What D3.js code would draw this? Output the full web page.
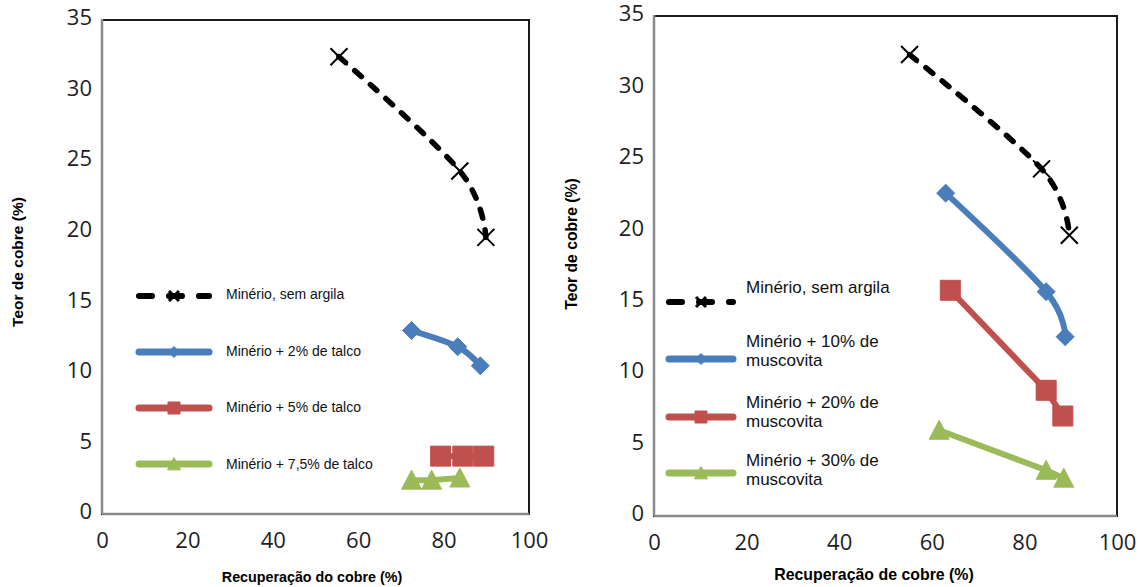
<!DOCTYPE html>
<html>
<head>
<meta charset="utf-8">
<script src="https://cdn.jsdelivr.net/npm/d3@7"></script>
<style>
  html, body { margin: 0; padding: 0; background: #fff; }
  svg { display: block; }
  .tick text { font-family: "Open Sans", sans-serif; font-size: 22px; fill: #1e1e1e; }
  .axis-title { font-family: "Liberation Sans", Arial, sans-serif; font-weight: bold; fill: #000; }
  .legend-text { font-family: "Liberation Sans", Arial, sans-serif; fill: #111; }
</style>
</head>
<body>
<svg id="chart" width="1143" height="587"></svg>
<script>
// Two Excel-style scatter panels: copper grade vs copper recovery,
// ore with talc (left) and ore with muscovite (right).

const xTickValues = [0, 20, 40, 60, 80, 100];
const yTickValues = [0, 5, 10, 15, 20, 25, 30, 35];

// --- left panel: talc ---
const leftTitles = { x: "Recuperação do cobre (%)", y: "Teor de cobre (%)" };
const leftNames = [
  ["Minério, sem argila"],
  ["Minério + 2% de talco"],
  ["Minério + 5% de talco"],
  ["Minério + 7,5% de talco"],
];
const leftSemArgilaRec = [55.5, 83.8, 89.9];
const leftSemArgilaTeor = [32.4, 24.3, 19.6];
const leftTalco2Rec = [72.5, 83.3, 88.6];
const leftTalco2Teor = [13.0, 11.85, 10.5];
const leftTalco5Rec = [79.3, 84.5, 89.4];
const leftTalco5Teor = [4.1, 4.1, 4.1];
const leftTalco75Rec = [72.5, 77.2, 83.8];
const leftTalco75Teor = [2.4, 2.4, 2.55];

// --- right panel: muscovite ---
const rightTitles = { x: "Recuperação de cobre (%)", y: "Teor de cobre (%)" };
const rightNames = [
  ["Minério, sem argila"],
  ["Minério + 10% de", "muscovita"],
  ["Minério + 20% de", "muscovita"],
  ["Minério + 30% de", "muscovita"],
];
const rightSemArgilaRec = [55.2, 83.7, 89.7];
const rightSemArgilaTeor = [32.3, 24.3, 19.65];
const rightMusc10Rec = [63.0, 84.7, 88.8];
const rightMusc10Teor = [22.6, 15.7, 12.55];
const rightMusc20Rec = [64.0, 84.7, 88.3];
const rightMusc20Teor = [15.8, 8.8, 7.0];
const rightMusc30Rec = [61.6, 84.7, 88.5];
const rightMusc30Teor = [6.0, 3.2, 2.65];

// series styles (Excel 2007 palette)
const STYLES = [
  { color: "#000000", marker: "times", dashed: true, smooth: true },
  { color: "#4a7ebb", marker: "diamond", dashed: false, smooth: true },
  { color: "#c0504d", marker: "square", dashed: false, smooth: false },
  { color: "#9bbb59", marker: "triangle", dashed: false, smooth: false },
];

// marker path builders, s = half size
const MARKERS = {
  times: (s) => `M${-s},${-s}L${s},${s}M${-s},${s}L${s},${-s}`,
  diamond: (s) => `M0,${-s}L${s},0L0,${s}L${-s},0Z`,
  square: (s) => `M${-s},${-s}H${s}V${s}H${-s}Z`,
  triangle: (s) => `M0,${-s}L${s},${s * 0.9}L${-s},${s * 0.9}Z`,
};
const MARKER_SIZE = { times: 8.5, diamond: 9, square: 10, triangle: 10 };
const LEGEND_MARKER_SIZE = { times: 5, diamond: 5.5, square: 6, triangle: 6.5 };

const panels = [
  {
    frame: { x0: 102, x1: 529, y0: 20, y1: 514 },
    titles: leftTitles,
    titlePos: { xx: 312, xy: 577, yx: 17, yy: 262 },
    titleSize: { x: 14.3, y: 15.5 },
    series: [
      d3.zip(leftSemArgilaRec, leftSemArgilaTeor),
      d3.zip(leftTalco2Rec, leftTalco2Teor),
      d3.zip(leftTalco5Rec, leftTalco5Teor),
      d3.zip(leftTalco75Rec, leftTalco75Teor),
    ],
    names: leftNames,
    legend: { x0: 139, x1: 209, tx: 226, size: 14, lh: 18, sampleY: [296, 352, 408, 464], textY: [294, 351, 407, 464] },
  },
  {
    frame: { x0: 654, x1: 1117, y0: 16, y1: 516 },
    titles: rightTitles,
    titlePos: { xx: 874, xy: 574, yx: 571, yy: 244 },
    titleSize: { x: 15.9, y: 15.7 },
    series: [
      d3.zip(rightSemArgilaRec, rightSemArgilaTeor),
      d3.zip(rightMusc10Rec, rightMusc10Teor),
      d3.zip(rightMusc20Rec, rightMusc20Teor),
      d3.zip(rightMusc30Rec, rightMusc30Teor),
    ],
    names: rightNames,
    legend: { x0: 669, x1: 733, tx: 746, size: 17, lh: 19, sampleY: [302, 359, 417, 473], textY: [287, 341, 402, 460] },
  },
];

const svg = d3.select("#chart");

function drawPanel(p) {
  const f = p.frame;
  const x = d3.scaleLinear().domain([0, 100]).range([f.x0, f.x1]);
  const y = d3.scaleLinear().domain([0, 35]).range([f.y1, f.y0]);
  const g = svg.append("g");

  // plot border: black top/right, grey value axes on left/bottom
  g.append("rect")
    .attr("x", f.x0).attr("y", f.y0)
    .attr("width", f.x1 - f.x0).attr("height", f.y1 - f.y0)
    .attr("fill", "none").attr("stroke", "#1a1a1a").attr("stroke-width", 2);

  const ax = g.append("g").attr("transform", `translate(0,${f.y1})`)
    .call(d3.axisBottom(x).tickValues(xTickValues).tickSize(0).tickPadding(18));
  ax.select(".domain").remove();
  const ay = g.append("g").attr("transform", `translate(${f.x0},0)`)
    .call(d3.axisLeft(y).tickValues(yTickValues).tickSize(0).tickPadding(10));
  ay.select(".domain").remove();
  ay.selectAll("text").attr("dy", "0.22em");

  g.append("line").attr("x1", f.x0).attr("x2", f.x0).attr("y1", f.y0 - 1).attr("y2", f.y1)
    .attr("stroke", "#8a8a8a").attr("stroke-width", 2.5);
  g.append("line").attr("x1", f.x0).attr("x2", f.x1).attr("y1", f.y1).attr("y2", f.y1)
    .attr("stroke", "#8a8a8a").attr("stroke-width", 2.5);

  // axis titles
  g.append("text").attr("class", "axis-title")
    .attr("x", p.titlePos.xx).attr("y", p.titlePos.xy)
    .attr("text-anchor", "middle").attr("dominant-baseline", "central")
    .style("font-size", p.titleSize.x + "px")
    .text(p.titles.x);
  g.append("text").attr("class", "axis-title")
    .attr("transform", `translate(${p.titlePos.yx},${p.titlePos.yy}) rotate(-90)`)
    .attr("text-anchor", "middle").attr("dominant-baseline", "central")
    .style("font-size", p.titleSize.y + "px")
    .text(p.titles.y);

  // series lines and markers
  p.series.forEach((pts, i) => {
    const st = STYLES[i];
    const line = d3.line()
      .x((d) => x(d[0]))
      .y((d) => y(d[1]))
      .curve(st.smooth ? d3.curveCardinal : d3.curveLinear);
    g.append("path")
      .attr("d", line(pts))
      .attr("fill", "none")
      .attr("stroke", st.color)
      .attr("stroke-width", st.dashed ? 5.5 : 6)
      .attr("stroke-linecap", "round")
      .attr("stroke-linejoin", "round")
      .attr("stroke-dasharray", st.dashed ? "9,12" : null);
    g.append("g").selectAll("path")
      .data(pts)
      .join("path")
      .attr("transform", (d) => `translate(${x(d[0])},${y(d[1])})`)
      .attr("d", MARKERS[st.marker](MARKER_SIZE[st.marker]))
      .attr("fill", st.marker === "times" ? "none" : st.color)
      .attr("stroke", st.color)
      .attr("stroke-width", st.marker === "times" ? 2 : 1);
  });

  // legend
  const L = p.legend;
  p.names.forEach((lines, i) => {
    const st = STYLES[i];
    const ly = L.sampleY[i];
    g.append("line")
      .attr("x1", L.x0).attr("x2", L.x1).attr("y1", ly).attr("y2", ly)
      .attr("stroke", st.color)
      .attr("stroke-width", st.dashed ? 6 : 7)
      .attr("stroke-linecap", "round")
      .attr("stroke-dasharray", st.dashed ? "13,17" : null);
    g.append("path")
      .attr("transform", `translate(${(L.x0 + L.x1) / 2},${ly})`)
      .attr("d", MARKERS[st.marker](LEGEND_MARKER_SIZE[st.marker]))
      .attr("fill", st.marker === "times" ? "none" : st.color)
      .attr("stroke", st.color)
      .attr("stroke-width", st.marker === "times" ? 3 : 1);
    const t = g.append("text").attr("class", "legend-text")
      .attr("x", L.tx).attr("y", L.textY[i])
      .attr("dominant-baseline", "central")
      .style("font-size", L.size + "px");
    t.selectAll("tspan")
      .data(lines)
      .join("tspan")
      .attr("x", L.tx)
      .attr("dy", (d, k) => (k === 0 ? 0 : L.lh))
      .text((d) => d);
  });
}

panels.forEach(drawPanel);
</script>
</body>
</html>
